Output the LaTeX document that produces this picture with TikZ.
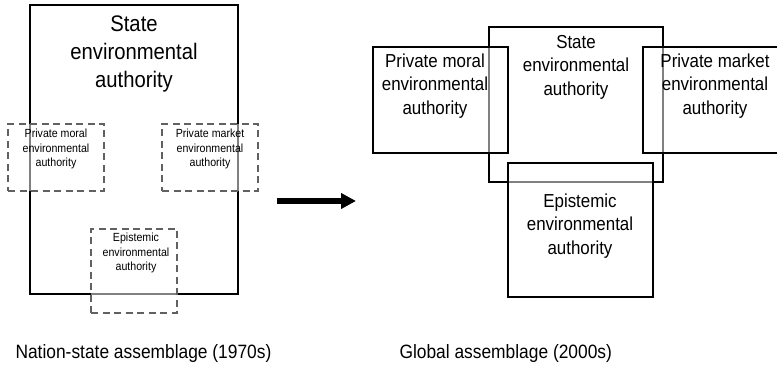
\documentclass[tikz,border=0pt]{standalone}
\usepackage{fontspec}
\setmainfont{Liberation Sans}[FakeStretch=0.9]
\usetikzlibrary{arrows.meta,positioning}

\begin{document}
\begin{tikzpicture}[
    x=1pt, y=-1pt,
    statebox/.style={rectangle, draw, line width=2.5pt, inner sep=0pt, outer sep=0pt, anchor=north west},
    dashbox/.style={rectangle, draw=black!62, line width=2.4pt, dash pattern=on 7pt off 4.5pt, fill=white, fill opacity=0.5, inner sep=0pt, outer sep=0pt, anchor=north west},
    solidbox/.style={rectangle, draw, line width=2.2pt, fill=white, fill opacity=0.5, inner sep=0pt, outer sep=0pt, anchor=north west},
    biglbl/.style={align=center, font={\fontsize{22.5}{28}\selectfont}},
    smalllbl/.style={align=center, font={\fontsize{11.8}{14.5}\selectfont}},
    midlbl/.style={align=center, font={\fontsize{18.8}{23.5}\selectfont}},
    caption/.style={anchor=west, font={\fontsize{19.3}{22}\selectfont}},
    connection/.style={draw, line width=5.5pt, -{Triangle[length=15pt, width=15pt]}}
]
\clip (0,0) rectangle (777,371);

% Nation-state assemblage
\node[statebox, minimum width=208pt, minimum height=289pt] (stateL) at (30,5) {};
\node[dashbox, minimum width=96pt, minimum height=67pt] (moralL) at (8,124) {};
\node[dashbox, minimum width=96pt, minimum height=67pt] (marketL) at (162,124) {};
\node[dashbox, minimum width=86pt, minimum height=84pt] (episL) at (91,229) {};

\node[biglbl] (stateLt) at (134,54) {State\\environmental\\authority};
\node[smalllbl] (moralLt) at (56,149) {Private moral\\environmental\\authority};
\node[smalllbl] (marketLt) at (210,149) {Private market\\environmental\\authority};
\node[smalllbl] (episLt) at (136,253) {Epistemic\\environmental\\authority};

% Global assemblage
\node[statebox, line width=2.2pt, minimum width=174pt, minimum height=155pt] (stateR) at (489,27) {};
\node[solidbox, minimum width=135pt, minimum height=106pt] (moralR) at (373,47) {};
\node[solidbox, minimum width=136pt, minimum height=106pt] (marketR) at (643,47) {};
\node[solidbox, minimum width=145pt, minimum height=134pt] (episR) at (508,163) {};

\node[midlbl] (stateRt) at (576,67) {State\\environmental\\authority};
\node[midlbl] (moralRt) at (435,86) {Private moral\\environmental\\authority};
\node[midlbl] (marketRt) at (715,86) {Private market\\environmental\\authority};
\node[midlbl] (episRt) at (580,226) {Epistemic\\environmental\\authority};

% arrow between the two
\coordinate (arrS) at (277,201);
\coordinate (arrE) at (356,201);
\path (arrS) edge[connection] (arrE);

\node[caption] (capL) at (12,354) {Nation-state assemblage (1970s)};
\node[caption] (capR) at (396,354) {Global assemblage (2000s)};
\end{tikzpicture}
\end{document}
